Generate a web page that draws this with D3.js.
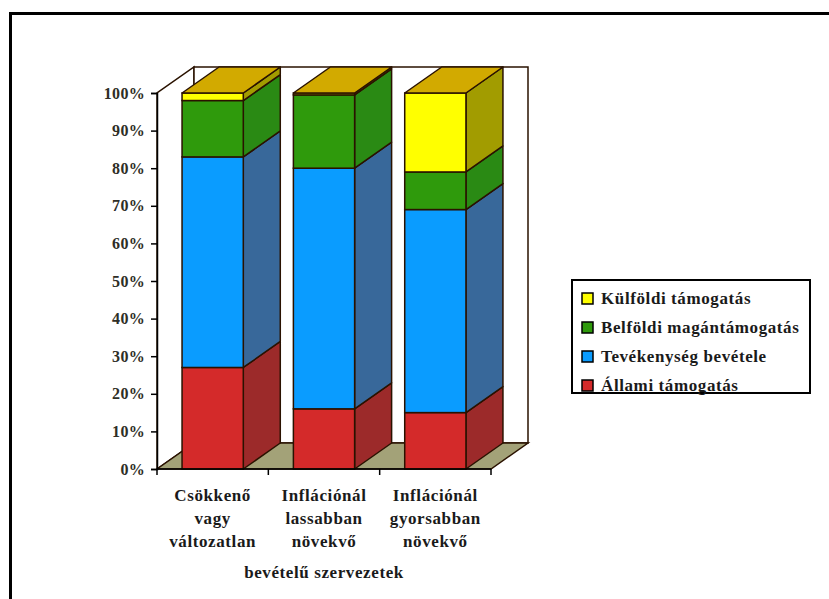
<!DOCTYPE html>
<html>
  <head>
    <meta http-equiv="Content-Type" content="text/html;charset=utf-8"/>
	<title>Bevételi szerkezet</title>
	<script src="https://cdn.jsdelivr.net/npm/d3@7"></script>
	<style>
		body { margin: 0; background: #ffffff; }
		text { font-family: 'Liberation Serif', 'Times New Roman', serif; font-weight: bold; }
		.tickText { fill: #2e2e26; font-size: 16px; letter-spacing: 0.3px; }
		.catText { fill: #1a1a1a; font-size: 17px; letter-spacing: 0.6px; }
		.legendText { fill: #1a1a1a; font-size: 17px; letter-spacing: 0.6px; }
	</style>
  </head>
  <body>
	<div id="chart"></div>
    <script>

		// categories (one row per label line)
		var categories = [
			["Csökkenő", "vagy", "változatlan"],
			["Inflációnál", "lassabban", "növekvő"],
			["Inflációnál", "gyorsabban", "növekvő"]
		];
		var axisTitle = "bevételű szervezetek";

		// series, bottom to top
		var seriesNames = ["Állami támogatás", "Tevékenység bevétele", "Belföldi magántámogatás", "Külföldi támogatás"];
		var allami      = [27, 16, 15];
		var tevekenyseg = [56, 64, 54];
		var belfoldi    = [15, 19.5, 10];
		var kulfoldi    = [2, 0.5, 21];

		var yTicks = [0, 10, 20, 30, 40, 50, 60, 70, 80, 90, 100];

		var frontColours = ["#d42a2a", "#0a9cff", "#2f9a0c", "#ffff00"];
		var sideColours  = ["#9c2a2a", "#38689a", "#2a8a14", "#a29c00"];
		var topColour = "#d2aa00";
		var edge = "#2a1200";

		var width = 829, height = 599;
		var dx = 37, dy = -26;   // depth of the 3d box

		var svg = d3.select("#chart").append("svg")
			.attr("width", width)
			.attr("height", height);

		// outer frame (only top and left visible)
		svg.append("path")
			.attr("d", "M10.5,600 L10.5,13.5 L830,13.5")
			.attr("fill", "none")
			.attr("stroke", "#000")
			.attr("stroke-width", 3);

		var x = d3.scaleBand()
			.domain(d3.range(categories.length))
			.range([157, 491])
			.paddingInner(0.45)
			.paddingOuter(0.225);

		var y = d3.scaleLinear()
			.domain([0, 100])
			.range([469, 93]);

		var x0 = x.range()[0], x1 = x.range()[1];
		var yb = y(0), yt = y(100);

		// walls
		var walls = svg.append("g");
		walls.append("polygon")
			.attr("points", [[x0, yb], [x0 + dx, yb + dy], [x0 + dx, yt + dy], [x0, yt]].join(" "))
			.attr("fill", "#fff").attr("stroke", edge).attr("stroke-width", 1.5);
		walls.append("polygon")
			.attr("points", [[x0 + dx, yb + dy], [x1 + dx, yb + dy], [x1 + dx, yt + dy], [x0 + dx, yt + dy]].join(" "))
			.attr("fill", "#fff").attr("stroke", edge).attr("stroke-width", 1.5);
		// floor
		walls.append("polygon")
			.attr("points", [[x0, yb], [x1, yb], [x1 + dx, yb + dy], [x0 + dx, yb + dy]].join(" "))
			.attr("fill", "#a3a278").attr("stroke", edge).attr("stroke-width", 1.5);

		// stack the data
		var rows = categories.map(function(c, i) {
			return {i: i, a: allami[i], t: tevekenyseg[i], b: belfoldi[i], k: kulfoldi[i]};
		});
		var stack = d3.stack().keys(["a", "t", "b", "k"]);
		var layers = stack(rows);

		var bars = svg.append("g");
		categories.forEach(function(c, i) {
			var bx = x(i), bw = x.bandwidth();
			var g = bars.append("g");
			layers.forEach(function(layer, j) {
				var v0 = layer[i][0], v1 = layer[i][1];
				g.append("polygon")
					.attr("points", [[bx + bw, y(v0)], [bx + bw + dx, y(v0) + dy], [bx + bw + dx, y(v1) + dy], [bx + bw, y(v1)]].join(" "))
					.attr("fill", sideColours[j])
					.attr("stroke", edge).attr("stroke-width", 1.5).attr("stroke-linejoin", "round");
				g.append("rect")
					.attr("x", bx)
					.attr("y", y(v1))
					.attr("width", bw)
					.attr("height", y(v0) - y(v1))
					.attr("fill", frontColours[j])
					.attr("stroke", edge).attr("stroke-width", 1.5);
			});
			var top = layers[layers.length - 1][i][1];
			g.append("polygon")
				.attr("points", [[bx, y(top)], [bx + dx, y(top) + dy], [bx + bw + dx, y(top) + dy], [bx + bw, y(top)]].join(" "))
				.attr("fill", topColour)
				.attr("stroke", edge).attr("stroke-width", 1.5).attr("stroke-linejoin", "round");
		});

		// y axis
		var yAxis = svg.append("g")
			.attr("transform", "translate(" + x0 + ",0)")
			.call(d3.axisLeft(y).tickValues(yTicks).tickSize(6).tickPadding(6).tickFormat(function(d) { return d + "%"; }));
		yAxis.select(".domain").attr("stroke", "#000").attr("stroke-width", 1.5);
		yAxis.selectAll(".tick line").attr("stroke", "#000").attr("stroke-width", 1.5);
		yAxis.selectAll(".tick text").attr("class", "tickText").attr("font-family", null).attr("font-size", null);

		// x axis line and ticks
		var bounds = d3.range(categories.length + 1).map(function(k) { return x0 + k * x.step(); });
		svg.append("line")
			.attr("x1", x0).attr("x2", x1).attr("y1", yb).attr("y2", yb)
			.attr("stroke", "#000").attr("stroke-width", 1.5);
		svg.selectAll(".xTick")
			.data(bounds)
		   .enter().append("line")
			.attr("class", "xTick")
			.attr("x1", function(d) { return d; }).attr("x2", function(d) { return d; })
			.attr("y1", yb).attr("y2", yb + 6)
			.attr("stroke", "#000").attr("stroke-width", 1.5);

		// category labels
		categories.forEach(function(lines, i) {
			var cx = x(i) + x.bandwidth() / 2;
			svg.append("text")
				.attr("class", "catText")
				.attr("text-anchor", "middle")
			   .selectAll("tspan")
				.data(lines)
			   .enter().append("tspan")
				.attr("x", cx)
				.attr("y", function(d, k) { return 501 + k * 23; })
				.text(function(d) { return d; });
		});
		svg.append("text")
			.attr("class", "catText")
			.attr("text-anchor", "middle")
			.attr("x", (x0 + x1) / 2)
			.attr("y", 578)
			.text(axisTitle);

		// legend, top series first
		var legend = svg.append("g").attr("transform", "translate(572,280)");
		legend.append("rect")
			.attr("width", 238).attr("height", 113)
			.attr("fill", "#fff").attr("stroke", "#000").attr("stroke-width", 2);
		var order = [3, 2, 1, 0];
		var items = legend.selectAll(".item")
			.data(order)
		   .enter().append("g")
			.attr("class", "item")
			.attr("transform", function(d, k) { return "translate(10," + (18 + k * 29) + ")"; });
		items.append("rect")
			.attr("x", 0).attr("y", -5)
			.attr("width", 11).attr("height", 11)
			.attr("fill", function(d) { return frontColours[d]; })
			.attr("stroke", "#000").attr("stroke-width", 1.5);
		items.append("text")
			.attr("class", "legendText")
			.attr("x", 19).attr("y", 6)
			.text(function(d) { return seriesNames[d]; });

	</script>
  </body>
</html>
